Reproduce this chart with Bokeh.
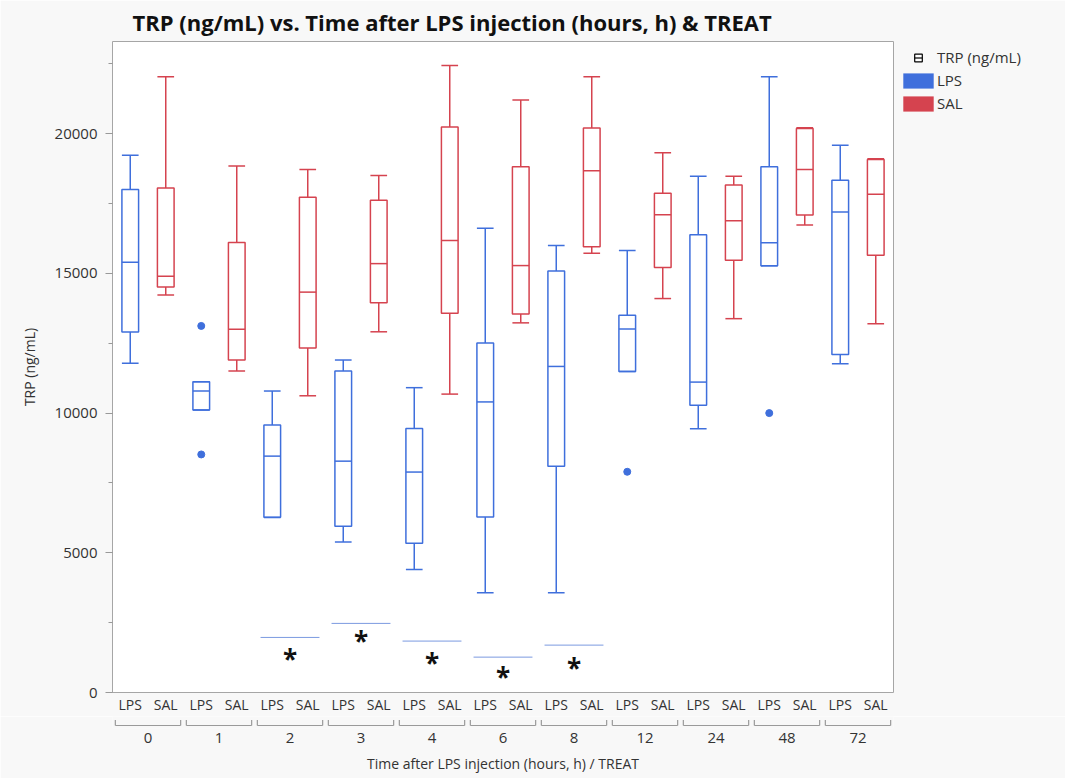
import numpy as np
from bokeh.plotting import figure
from bokeh.models import (FactorRange, ColumnDataSource, Legend, LegendItem, Range1d,
                          SingleIntervalTicker)
from bokeh.layouts import column
from bokeh.embed import file_html
from bokeh.resources import INLINE
from bokeh.core.properties import value

# ---------------- data ----------------
groups = ["0", "1", "2", "3", "4", "6", "8", "12", "24", "48", "72"]
treats = ["LPS", "SAL"]

lps_low = [11780, 10110, 6260, 5390, 4400, 3570, 3570, 11490, 9440, 15270, 11770]
lps_q1 = [12900, 10110, 6270, 5950, 5340, 6280, 8100, 11490, 10280, 15270, 12100]
lps_med = [15400, 10790, 8460, 8280, 7890, 10400, 11670, 13010, 11110, 16100, 17200]
lps_q3 = [18000, 11120, 9570, 11510, 9450, 12510, 15090, 13500, 16380, 18820, 18330]
lps_high = [19230, 11120, 10790, 11900, 10910, 16620, 16000, 15820, 18480, 22040, 19590]

sal_low = [14230, 11510, 10620, 12910, 10680, 13230, 15720, 14100, 13380, 16730, 13200]
sal_q1 = [14510, 11900, 12330, 13950, 13570, 13550, 15950, 15210, 15470, 17090, 15650]
sal_med = [14900, 13000, 14330, 15350, 16180, 15280, 18670, 17100, 16880, 18720, 17830]
sal_q3 = [18060, 16110, 17730, 17620, 20240, 18820, 20200, 17870, 18160, 20190, 19080]
sal_high = [22040, 18840, 18720, 18500, 22440, 21210, 22040, 19320, 18480, 20210, 19100]

lps_outlier_groups = ["1", "1", "12", "48"]
lps_outliers = [13120, 8520, 7900, 10000]

sig_groups = ["2", "3", "4", "6", "8"]
sig_line_levels = [1971, 2473, 1840, 1266, 1696]
sig_star_levels = [1254, 1910, 1135, 634, 957]

# ---------------- styling ----------------
FONT = "Open Sans"
BLUE = "#3f6fdc"
RED = "#d5434f"
BG = "#f8f8f8"
TXT = "#333333"
HALF = 0.235

factors = [(g, t) for g in groups for t in treats]

x, lo, q1, md, q3, hi, col = [], [], [], [], [], [], []
for i, g in enumerate(groups):
    for t, arrs, c in (("LPS", (lps_low, lps_q1, lps_med, lps_q3, lps_high), BLUE),
                       ("SAL", (sal_low, sal_q1, sal_med, sal_q3, sal_high), RED)):
        x.append((g, t))
        lo.append(arrs[0][i]); q1.append(arrs[1][i]); md.append(arrs[2][i])
        q3.append(arrs[3][i]); hi.append(arrs[4][i]); col.append(c)

src = ColumnDataSource(dict(
    x=x, lo=lo, q1=q1, md=md, q3=q3, hi=hi, color=col,
    xl=[(g, t, -HALF) for g, t in x], xr=[(g, t, HALF) for g, t in x],
))

p = figure(x_range=FactorRange(*factors, range_padding=0, factor_padding=0, group_padding=0),
           y_range=Range1d(0, 23300),
           frame_width=781, frame_height=651,
           min_border_left=112, min_border_right=172, min_border_top=40, min_border_bottom=24,
           output_backend="svg", toolbar_location=None,
           background_fill_color="white", border_fill_color=BG,
           outline_line_color="#a6a6a6", outline_line_width=1)

p.title.text = "TRP (ng/mL) vs. Time after LPS injection (hours, h) & TREAT"
p.title.text_font = FONT
p.title.text_font_size = "22px"
p.title.text_font_style = "bold"
p.title.text_color = "#111111"
p.title.align = "left"
p.title.offset = 20
p.title.standoff = 9

p.xgrid.visible = False
p.ygrid.visible = False

# whiskers
p.segment(x0="x", y0="lo", x1="x", y1="q1", source=src, line_color="color", line_width=1.5)
p.segment(x0="x", y0="q3", x1="x", y1="hi", source=src, line_color="color", line_width=1.5)
# caps
p.segment(x0="xl", y0="lo", x1="xr", y1="lo", source=src, line_color="color", line_width=1.5)
p.segment(x0="xl", y0="hi", x1="xr", y1="hi", source=src, line_color="color", line_width=1.5)
# boxes
p.vbar(x="x", bottom="q1", top="q3", width=2 * HALF, source=src,
       fill_color="white", fill_alpha=0, line_color="color", line_width=1.5)
# medians
p.segment(x0="xl", y0="md", x1="xr", y1="md", source=src, line_color="color", line_width=1.5)

# outliers
out_src = ColumnDataSource(dict(x=[(g, "LPS") for g in lps_outlier_groups], y=lps_outliers))
p.scatter(x="x", y="y", source=out_src, size=7, fill_color=BLUE, line_color=BLUE)

# significance marks
sig_src = ColumnDataSource(dict(
    x0=[(g, "LPS", -0.33) for g in sig_groups],
    x1=[(g, "SAL", 0.33) for g in sig_groups],
    xc=[(g, "SAL", -0.5) for g in sig_groups],
    yl=sig_line_levels, ys=sig_star_levels, t=["*"] * len(sig_groups),
))
p.segment(x0="x0", y0="yl", x1="x1", y1="yl", source=sig_src, line_color="#7b9ae0", line_width=1)
p.text(x="xc", y="ys", text="t", source=sig_src, text_font=value(FONT), text_font_size="26px",
       text_font_style="bold", text_color="#111111", text_align="center", text_baseline="middle",
       y_offset=2)

# x axis: only the LPS / SAL level shown here
p.xaxis.major_tick_line_color = None
p.xaxis.major_tick_out = 0
p.xaxis.major_tick_in = 0
p.xaxis.minor_tick_line_color = None
p.xaxis.axis_line_color = None
p.xaxis.separator_line_color = None
p.xaxis.major_label_standoff = 2
p.xaxis.major_label_text_font = FONT
p.xaxis.major_label_text_font_size = "14px"
p.xaxis.major_label_text_color = TXT
p.xaxis.group_text_font_size = "0px"
p.xaxis.group_text_color = None

p.yaxis.ticker = SingleIntervalTicker(interval=5000, num_minor_ticks=2)
p.yaxis.axis_line_color = None
p.yaxis.major_tick_line_color = "#999999"
p.yaxis.minor_tick_line_color = "#999999"
p.yaxis.major_tick_in = 0
p.yaxis.major_tick_out = 7
p.yaxis.minor_tick_in = 0
p.yaxis.minor_tick_out = 4
p.yaxis.major_label_standoff = 8
p.yaxis.major_label_text_font = FONT
p.yaxis.major_label_text_font_size = "15px"
p.yaxis.major_label_text_color = TXT
p.yaxis.axis_label = "TRP (ng/mL)"
p.yaxis.axis_label_text_font = FONT
p.yaxis.axis_label_text_font_size = "14px"
p.yaxis.axis_label_text_font_style = "normal"
p.yaxis.axis_label_text_color = TXT
p.yaxis.axis_label_standoff = 13

# legend (swatches / icon)
icon_box = p.scatter(x=[factors[0]], y=[-5000], marker="square", size=8,
                     fill_color="white", line_color="black", line_width=1.2)
icon_line = p.scatter(x=[factors[0]], y=[-5000], marker="dash", angle=np.pi / 2, size=8,
                      line_color="black", line_width=1.2)
lps_sw = p.vbar(x=[factors[0]], bottom=[0], top=[0], width=0.1, fill_color=BLUE, line_color=None)
sal_sw = p.vbar(x=[factors[1]], bottom=[0], top=[0], width=0.1, fill_color=RED, line_color=None)

legend = Legend(items=[
    LegendItem(label="TRP (ng/mL)", renderers=[icon_box, icon_line]),
    LegendItem(label="LPS", renderers=[lps_sw]),
    LegendItem(label="SAL", renderers=[sal_sw]),
], location="top_left", glyph_width=38, glyph_height=19, label_height=19, spacing=3,
   padding=0, margin=6, label_standoff=0, background_fill_alpha=0, border_line_color=None,
   label_text_font=FONT, label_text_font_size="15px", label_text_color=TXT)
p.add_layout(legend, "right")

# ---------------- bottom group axis ----------------
pb = figure(x_range=FactorRange(*groups, range_padding=0, factor_padding=0),
            y_range=Range1d(0, 1), frame_width=781, frame_height=12,
            min_border_left=112, min_border_right=172, min_border_top=0, min_border_bottom=52,
            output_backend="svg", toolbar_location=None, y_axis_location=None,
            background_fill_color=BG, border_fill_color=BG, outline_line_color=None)
pb.xgrid.visible = False
pb.ygrid.visible = False

br_src = ColumnDataSource(dict(
    xa=[(g, -0.46) for g in groups], xb=[(g, 0.46) for g in groups],
    yb=[0.25] * len(groups), yt=[0.7] * len(groups),
))
pb.segment(x0="xa", y0="yb", x1="xb", y1="yb", source=br_src, line_color="#9a9a9a", line_width=1.2)
pb.segment(x0="xa", y0="yb", x1="xa", y1="yt", source=br_src, line_color="#9a9a9a", line_width=1.2)
pb.segment(x0="xb", y0="yb", x1="xb", y1="yt", source=br_src, line_color="#9a9a9a", line_width=1.2)

pb.xaxis.axis_line_color = None
pb.xaxis.major_tick_line_color = None
pb.xaxis.major_tick_out = 0
pb.xaxis.major_tick_in = 0
pb.xaxis.minor_tick_line_color = None
pb.xaxis.major_label_standoff = 4
pb.xaxis.major_label_text_font = FONT
pb.xaxis.major_label_text_font_size = "15px"
pb.xaxis.major_label_text_color = TXT
pb.xaxis.axis_label = "Time after LPS injection (hours, h) / TREAT"
pb.xaxis.axis_label_text_font = FONT
pb.xaxis.axis_label_text_font_size = "14px"
pb.xaxis.axis_label_text_font_style = "normal"
pb.xaxis.axis_label_text_color = TXT
pb.xaxis.axis_label_standoff = 8

layout = column(p, pb, spacing=0)
open("out.html", "w").write(file_html(layout, INLINE))
